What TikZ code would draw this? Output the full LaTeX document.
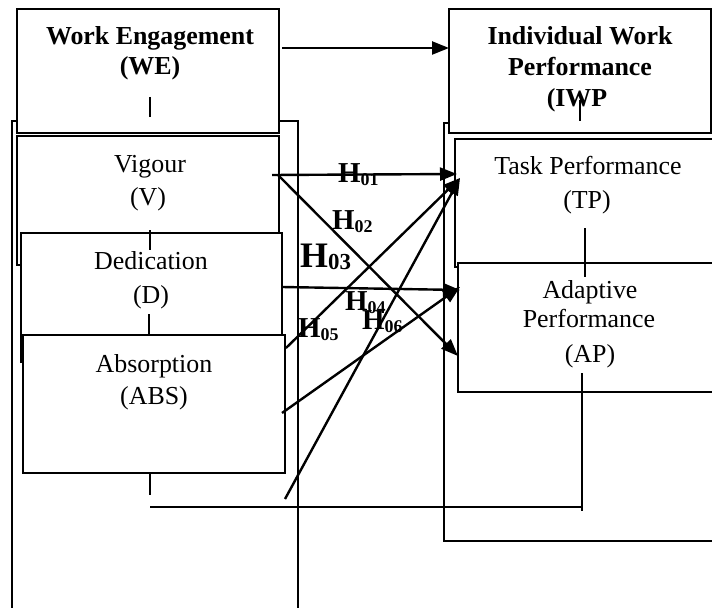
\documentclass[tikz,border=0pt]{standalone}
\usepackage{fontspec}
\setmainfont{Liberation Serif}
\usetikzlibrary{arrows.meta}
\begin{document}
\begin{tikzpicture}[x=1bp,y=-1bp,
  box/.style={draw, line width=1.8bp, fill=white, inner sep=0pt, outer sep=0pt, anchor=north west},
  grp/.style={draw, line width=1.8bp, inner sep=0pt, outer sep=0pt, anchor=north west},
  tick/.style={line width=1.5bp},
  arr/.style={line width=2.4bp, -{Triangle[length=17bp,width=13bp]}},
  lbl/.style={inner sep=0pt, anchor=base, font=\fontsize{26}{30}\selectfont},
  ttl/.style={inner sep=0pt, anchor=base, font=\fontsize{26}{30}\selectfont\bfseries},
  hyp/.style={inner sep=0pt, anchor=base west, font=\fontsize{29}{30}\selectfont\bfseries},
  hypbig/.style={inner sep=0pt, anchor=base west, font=\fontsize{36}{36}\selectfont\bfseries}]
\useasboundingbox (0,0) rectangle (712,608);
\clip (0,0) rectangle (712,608);
\fill[white] (0,0) rectangle (712,608);
% group frames
\node[grp, minimum width=286bp, minimum height=500bp] (WEgrp) at (12,121) {};
\node[grp, minimum width=280bp, minimum height=418bp] (IWPgrp) at (444,123) {};
% boxes
\node[box, minimum width=262bp, minimum height=124bp] (WE) at (17,9) {};
\node[box, minimum width=262bp, minimum height=124bp] (IWP) at (449,9) {};
\node[box, minimum width=262bp, minimum height=129bp] (V) at (17,136) {};
\node[box, minimum width=261bp, minimum height=129bp] (D) at (21,233) {};
\node[box, minimum width=262bp, minimum height=138bp] (ABS) at (23,335) {};
\node[box, minimum width=270bp, minimum height=128bp] (TP) at (455,139) {};
\node[box, minimum width=270bp, minimum height=129bp] (AP) at (458,263) {};
% texts
\node[ttl] (we1) at (150,45) {Work Engagement};
\node[ttl] (we2) at (150,75) {(WE)};
\node[ttl] (iwp1) at (580,45) {Individual Work};
\node[ttl] (iwp2) at (580,76) {Performance};
\node[ttl] (iwp3) at (577,107) {(IWP};
\node[lbl] (v1) at (150,173) {Vigour};
\node[lbl] (v2) at (148,206) {(V)};
\node[lbl] (d1) at (151,269) {Dedication};
\node[lbl] (d2) at (151,303) {(D)};
\node[lbl] (abs1) at (154,372) {Absorption};
\node[lbl] (abs2) at (154,404) {(ABS)};
\node[lbl] (tp1) at (588,175) {Task Performance};
\node[lbl] (tp2) at (587,209) {(TP)};
\node[lbl] (ap1) at (590,298) {Adaptive};
\node[lbl] (ap2) at (589,327) {Performance};
\node[lbl] (ap3) at (590,362) {(AP)};
% ticks and link lines
\coordinate (t1a) at (150,97);  \coordinate (t1b) at (150,117);
\coordinate (t2a) at (150,230); \coordinate (t2b) at (150,250);
\coordinate (t3a) at (149,314); \coordinate (t3b) at (149,335);
\coordinate (t4a) at (150,473); \coordinate (t4b) at (150,495);
\coordinate (t5a) at (580,100); \coordinate (t5b) at (580,121);
\coordinate (t6a) at (585,228); \coordinate (t6b) at (585,277);
\coordinate (apd) at (582,373); \coordinate (ape) at (582,511);
\coordinate (bl) at (150,507);  \coordinate (br) at (582,507);
\draw[tick] (t1a) -- (t1b);
\draw[tick] (t2a) -- (t2b);
\draw[tick] (t3a) -- (t3b);
\draw[tick] (t4a) -- (t4b);
\draw[tick] (t5a) -- (t5b);
\draw[tick] (t6a) -- (t6b);
\draw[tick] (apd) -- (ape);
\draw[line width=2.2bp] (bl) -- (br);
% arrows
\coordinate (weo) at (282,48);  \coordinate (iwpi) at (449,48);
\coordinate (vo1) at (272,175); \coordinate (tpi1) at (457,174);
\coordinate (vo2) at (278,175); \coordinate (api1) at (458,356);
\coordinate (do) at (282,287);  \coordinate (api2) at (460,290);
\coordinate (abso1) at (286,348); \coordinate (tpi2) at (460,178);
\coordinate (abso2) at (282,413); \coordinate (api3) at (460,287);
\coordinate (low) at (285,499);
\draw[arr] (weo) -- (iwpi);
\draw[arr] (vo1) -- (tpi1);
\draw[arr] (vo2) -- (api1);
\draw[arr] (do) -- (api2);
\draw[arr] (abso1) -- (tpi2);
\draw[arr] (abso2) -- (api3);
\draw[arr] (low) -- (tpi2);
% hypothesis labels
\node[hyp] (h1) at (338,183) {H\raisebox{-3bp}{\fontsize{18}{18}\selectfont 01}};
\node[hyp] (h2) at (332,229) {H\raisebox{-3bp}{\fontsize{18}{18}\selectfont 02}};
\node[hypbig] (h3) at (300,267) {H\raisebox{-2bp}{\fontsize{23}{23}\selectfont 03}};
\node[hyp] (h4) at (345,310) {H\raisebox{-3bp}{\fontsize{18}{18}\selectfont 04}};
\node[hyp] (h5) at (298,337) {H\raisebox{-3bp}{\fontsize{18}{18}\selectfont 05}};
\node[hyp] (h6) at (362,329) {H\raisebox{-3bp}{\fontsize{18}{18}\selectfont 06}};
\end{tikzpicture}
\end{document}
